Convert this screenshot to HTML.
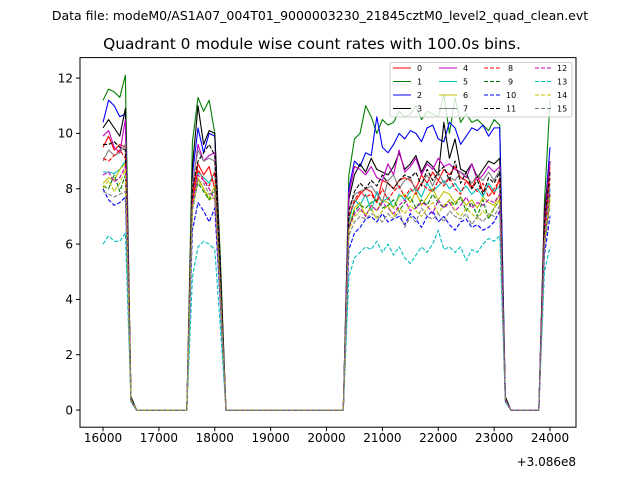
<!DOCTYPE html>
<html><head><meta charset="utf-8"><style>
body{margin:0;background:#fff;}
svg{display:block;font-family:"DejaVu Sans","Liberation Sans",sans-serif;}
</style></head><body>
<svg id="chart" width="640" height="480" xmlns="http://www.w3.org/2000/svg">
<rect width="640" height="480" fill="#fff"/>
<text x="320" y="20" text-anchor="middle" font-size="12.5">Data file: modeM0/AS1A07_004T01_9000003230_21845cztM0_level2_quad_clean.evt</text>
<text x="312" y="49" text-anchor="middle" font-size="15.4">Quadrant 0 module wise count rates with 100.0s bins.</text>
<g id="series"></g>
<rect x="80" y="57.6" width="496" height="369.6" fill="none" stroke="#000" stroke-width="1"/>
<g id="axes"></g>
<g id="legend"></g>
<text x="576" y="466" text-anchor="end" font-size="12">+3.086e8</text>
</svg>
<script>
const NS="http://www.w3.org/2000/svg";
const t0=16000, dt=100, nPts=81;
const xTicks=[16000,17000,18000,19000,20000,21000,22000,23000,24000];
const yTicks=[0,2,4,6,8,10,12];
const seriesNames=["0","1","2","3","4","5","6","7","8","9","10","11","12","13","14","15"];
const colors=["#ff0000","#008000","#0000ff","#000000","#bf00bf","#00bfbf","#bfbf00","#808080","#ff0000","#008000","#0000ff","#000000","#bf00bf","#00bfbf","#bfbf00","#808080"];
const seg1=[
[9.5,9.9,9.4,9.6,9.5],[11.2,11.6,11.5,11.3,12.1],[10.4,11.2,11.0,10.6,10.7],[10.2,10.5,10.2,9.9,10.9],
[9.9,10.1,9.5,9.3,10.5],[8.6,8.6,8.55,8.7,9.0],[8.2,8.4,8.3,8.7,8.9],[9.0,9.4,9.2,9.3,9.6],
[9.1,9.0,9.2,9.4,9.1],[8.1,8.0,8.5,7.9,8.5],[8.0,7.6,7.4,7.5,7.7],[9.6,9.6,9.7,9.5,9.4],
[8.5,8.6,8.25,8.4,8.8],[6.0,6.3,6.1,6.1,6.4],[8.0,8.3,7.9,8.2,8.7],[7.9,7.8,7.7,7.8,7.9]];
const seg2=[
[7.8,8.9,8.5,8.8,8.0,4.3],[9.7,11.3,10.8,11.2,10.0,5.5],[8.5,10.2,9.3,10.0,9.9,5.0],[8.8,11.0,9.6,10.1,10.0,5.2],
[8.0,9.6,9.0,9.2,9.3,4.8],[7.6,8.6,8.4,8.2,8.6,4.4],[7.5,8.4,8.0,7.6,7.7,4.0],[8.2,9.4,9.0,9.1,9.0,4.6],
[7.6,8.7,8.3,8.1,8.6,4.5],[7.4,8.2,7.9,7.6,8.0,4.1],[6.5,7.5,7.2,6.8,7.3,3.8],[8.0,9.0,9.3,9.6,9.2,4.8],
[7.5,8.5,8.3,8.0,7.6,4.0],[4.8,5.9,6.1,6.0,5.8,3.0],[7.3,8.3,8.0,7.7,8.1,4.2],[7.2,8.3,8.2,7.8,7.9,4.0]];
const seg3=[
[7.0,7.5,7.8,8.0,7.9,7.5,8.3,8.2,8.0,8.3,8.4,8.3,8.0,8.5,8.2,8.6,8.3,8.7,8.5,8.8,8.4,8.3,8.0,8.5,7.9,8.1,7.8,8.4],
[8.5,9.8,10.0,11.0,10.6,10.0,10.5,10.3,10.4,10.8,10.6,10.7,11.0,10.5,10.8,10.7,10.6,11.4,10.0,11.3,10.4,10.7,10.4,10.5,10.3,10.1,10.5,10.3],
[8.0,9.0,8.8,9.3,9.2,10.6,9.5,9.3,9.6,10.0,9.8,10.1,10.0,9.7,10.2,10.3,9.8,9.7,10.4,10.2,9.6,9.9,10.2,10.1,10.3,9.9,10.2,10.2],
[7.6,8.5,8.9,8.6,9.1,8.7,8.6,8.5,8.8,9.3,8.7,8.9,9.2,8.6,9.0,8.8,8.5,10.4,9.1,9.8,8.7,8.6,8.9,8.4,8.7,9.0,8.9,9.1],
[7.8,8.8,8.7,8.5,8.8,8.4,8.3,8.9,8.5,9.4,8.6,8.8,9.1,8.5,8.9,8.7,9.1,8.8,8.9,8.7,8.6,8.4,8.9,8.3,8.5,8.8,8.6,8.8],
[6.8,7.6,7.4,7.8,7.2,7.9,7.5,7.7,7.3,7.8,7.6,7.9,8.0,7.7,8.2,7.9,8.1,8.3,8.0,8.2,7.9,8.1,7.8,8.0,7.7,8.2,7.9,8.1],
[6.6,7.3,7.5,7.0,7.4,7.2,7.6,7.5,7.3,7.7,7.8,7.5,7.9,7.4,7.7,8.0,7.6,7.9,7.8,7.5,7.7,7.4,7.6,7.3,7.7,7.5,7.4,7.8],
[7.2,7.8,7.9,8.0,8.1,7.8,7.5,8.3,8.5,8.0,8.3,8.4,7.9,8.2,8.5,8.1,8.6,8.2,8.4,8.3,8.6,8.5,8.2,8.5,8.3,8.6,8.3,8.7],
[7.0,7.6,7.9,7.7,7.8,7.5,8.0,7.6,7.9,8.1,7.7,8.0,7.8,8.2,8.0,7.9,8.3,8.1,8.4,8.0,7.8,8.3,8.1,7.9,8.2,7.7,8.0,8.3],
[6.6,7.2,7.4,7.3,7.5,7.6,7.3,7.4,7.6,7.2,7.5,7.7,7.3,7.6,7.4,7.8,7.5,7.3,7.6,7.4,7.7,7.2,7.5,7.0,7.6,6.9,7.3,7.6],
[5.8,6.4,6.6,6.9,7.0,6.8,7.1,6.8,6.9,7.0,6.7,7.1,6.9,6.6,7.0,7.2,6.8,7.0,6.7,6.5,6.8,6.9,6.6,6.7,6.5,6.6,6.8,7.2],
[7.2,7.9,8.2,8.0,8.3,8.1,8.5,8.2,8.0,8.3,8.5,8.4,8.6,8.1,8.7,8.3,8.6,8.8,8.3,9.0,8.2,8.6,8.0,8.3,7.8,8.4,8.2,8.6],
[6.6,7.1,7.3,7.0,7.4,7.2,7.5,7.3,7.1,7.4,7.6,7.2,7.3,7.5,7.4,7.1,7.6,7.3,7.5,7.2,7.4,7.7,7.3,7.5,7.4,7.6,7.5,7.8],
[4.8,5.5,5.7,5.9,5.8,6.1,5.7,6.0,5.6,5.9,5.5,5.3,5.6,5.9,5.7,6.0,6.5,5.8,5.9,5.7,5.9,5.4,5.8,5.7,6.0,6.2,6.1,6.3],
[6.5,7.0,7.2,7.1,7.3,6.9,7.2,7.4,7.0,7.3,7.1,7.4,7.2,7.0,7.3,7.5,7.1,7.4,7.6,7.2,7.0,7.3,7.1,6.9,7.2,7.0,7.3,7.6],
[6.3,6.8,7.0,6.9,7.1,7.0,6.8,7.1,6.9,7.2,6.6,7.0,6.8,7.3,7.0,6.9,7.1,6.8,7.2,7.0,6.9,7.1,6.7,7.0,6.8,7.1,7.0,7.4]];
const seg4=[[6.8,8.8],[7.5,11.2],[7.0,9.5],[7.2,9.0],[6.9,9.0],[6.3,8.0],[6.0,7.6],[6.5,8.2],[6.6,8.4],[6.0,7.8],[5.6,7.0],[6.8,8.6],[6.2,7.9],[5.0,5.9],[6.1,7.7],[5.9,7.4]];
const dropVals=[0.4,0.5,0.45,0.45,0.4,0.35,0.35,0.4,0.4,0.35,0.3,0.4,0.35,0.3,0.35,0.35];

const L=80,R=576,T=57.6,B=427.2;
const xmin=15588,xmax=24465,ymin=-0.62,ymax=12.74;
const xs=v=>L+(v-xmin)/(xmax-xmin)*(R-L);
const ys=v=>B-(v-ymin)/(ymax-ymin)*(B-T);
function mk(tag,attrs,parent){const e=document.createElementNS(NS,tag);for(const k in attrs)e.setAttribute(k,attrs[k]);parent.appendChild(e);return e;}
function buildSeries(i){
  const v=new Array(nPts).fill(0);
  seg1[i].forEach((d,j)=>v[j]=d);
  v[5]=dropVals[i];
  seg2[i].forEach((d,j)=>v[16+j]=d);
  seg3[i].forEach((d,j)=>v[44+j]=d);
  v[72]=dropVals[i];
  seg4[i].forEach((d,j)=>v[79+j]=d);
  return v;
}
const axes=document.getElementById('axes');
xTicks.forEach(t=>{
  const x=xs(t);
  const tk=mk('line',{x1:x,x2:x,y1:B,y2:B+4,stroke:'#000','stroke-width':1},axes);
  
  
  const tx=mk('text',{x:x,y:B+15,'text-anchor':'middle','font-size':12},axes);
  
  
  tx.textContent=t;
});
yTicks.forEach(t=>{
  const y=ys(t);
  const tk=mk('line',{x1:L-4,x2:L,y1:y,y2:y,stroke:'#000','stroke-width':1},axes);
  
  
  const tx=mk('text',{x:L-7,y:y+4.3,'text-anchor':'end','font-size':12},axes);
  
  
  tx.textContent=t;
});
const sg=document.getElementById('series');
for(let i=0;i<16;i++){
  const v=buildSeries(i);
  const pts=v.map((d,k)=>xs(t0+k*dt).toFixed(2)+','+ys(d).toFixed(2)).join(' ');
  const a={points:pts,fill:'none',stroke:colors[i],'stroke-width':1.1,'stroke-linejoin':'round'};
  if(i>=8)a['stroke-dasharray']='4.1,1.8';
  const pl=mk('polyline',a,sg);
  
  
}
const lg=document.getElementById('legend');
const box=mk('rect',{x:390,y:62.5,width:182,height:54.5,rx:2,fill:'#fff','fill-opacity':0.8,stroke:'#ccc','stroke-width':1},lg);


const colX=[393,439,484,535], rowY=[68,81.5,95,108.5];
for(let i=0;i<16;i++){
  const c=Math.floor(i/4), r=i%4;
  const g=mk('g',{},lg);
  
  
  const la={x1:colX[c],x2:colX[c]+18,y1:rowY[r],y2:rowY[r],stroke:colors[i],'stroke-width':1.1};
  if(i>=8)la['stroke-dasharray']='4,2';
  mk('line',la,g);
  const tx=mk('text',{x:colX[c]+(i>=10?22:24),y:rowY[r]+3,'font-size':8},g);
  tx.textContent=seriesNames[i];
}
</script>
</body></html>
